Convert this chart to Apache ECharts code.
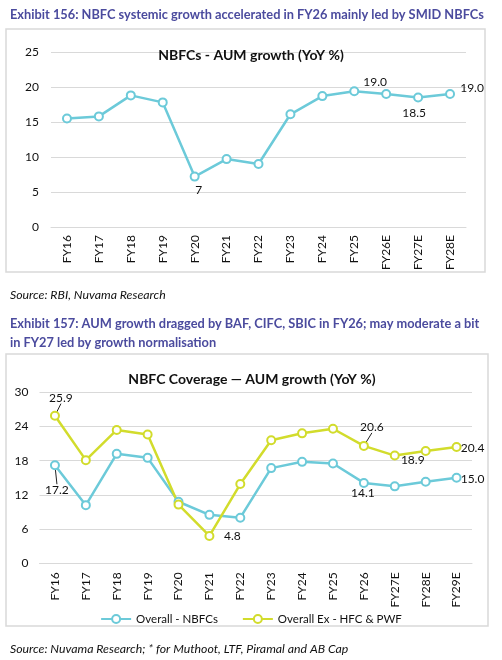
<!DOCTYPE html>
<html>
<head>
<meta charset="utf-8">
<script src="https://cdn.jsdelivr.net/npm/echarts@6/dist/echarts.min.js"></script>
<style>
html,body{margin:0;padding:0;background:#fff;}
#main{width:502px;height:660px;}
</style>
</head>
<body>
<div id="main"></div>
<script>
// Exhibit 156 - systemic NBFC AUM growth
var years1 = ['FY16','FY17','FY18','FY19','FY20','FY21','FY22','FY23','FY24','FY25','FY26E','FY27E','FY28E'];
var nbfcGrowth = [15.5, 15.8, 18.8, 17.8, 7.2, 9.7, 9.0, 16.1, 18.7, 19.4, 19.0, 18.5, 19.0];
var labelIdx1 = [4, 10, 11, 12];
var labelTxt1 = ['7', '19.0', '18.5', '19.0'];

// Exhibit 157 - coverage universe
var years2 = ['FY16','FY17','FY18','FY19','FY20','FY21','FY22','FY23','FY24','FY25','FY26','FY27E','FY28E','FY29E'];
var overallNbfc = [17.2, 10.2, 19.2, 18.5, 10.8, 8.5, 8.0, 16.7, 17.8, 17.5, 14.1, 13.5, 14.3, 15.0];
var overallEx = [25.9, 18.1, 23.4, 22.6, 10.3, 4.8, 13.9, 21.6, 22.8, 23.6, 20.6, 18.9, 19.7, 20.4];
var labelIdxA = [0, 10, 13];
var labelTxtA = ['17.2', '14.1', '15.0'];
var labelIdxB = [0, 5, 10, 11, 13];
var labelTxtB = ['25.9', '4.8', '20.6', '18.9', '20.4'];

var FONT = 'Lato, "Open Sans", sans-serif';
var CYAN = '#6ccad9';
var LIME = '#d2dc2c';
var PURPLE = '#4b4b9e';

// label offsets from the point centre, by data index
var shift1 = {4: [4, 14], 10: [-11, -12], 11: [-4, 16], 12: [22, -6]};
var shiftA = {0: [2, 25], 10: [-1, 10], 13: [16, 1]};
var shiftB = {0: [6, -18], 5: [23, 0], 10: [8, -19], 11: [18, 5], 13: [16, 1]};
// labels that keep a small leader line
var leadA = [0];
var leadB = [0, 10];

function withLabels(values, idx, txt, lead) {
    return values.map(function (v, i) {
        var k = idx.indexOf(i);
        if (k < 0) return v;
        return {
            value: v,
            label: {show: true, formatter: txt[k]},
            labelLine: {show: lead.indexOf(i) >= 0}
        };
    });
}
function layoutBy(shift) {
    return function (p) {
        var s = shift[p.dataIndex];
        return s ? {dx: s[0], dy: s[1]} : {};
    };
}
function lineSeries(name, color, values, xi, shift, idx, txt, lead) {
    return {
        name: name,
        type: 'line',
        xAxisIndex: xi,
        yAxisIndex: xi,
        symbol: 'emptyCircle',
        symbolSize: 8,
        lineStyle: {color: color, width: 2.5},
        itemStyle: {color: color, borderWidth: 2},
        label: {show: false, position: 'inside', color: '#111', fontFamily: FONT, fontSize: 12},
        labelLine: {show: false, lineStyle: {color: '#222', width: 1}},
        labelLayout: layoutBy(shift),
        emphasis: {disabled: true},
        data: withLabels(values, idx, txt, lead)
    };
}

var axisText = {color: '#111', fontFamily: FONT, fontSize: 12};

var chart = echarts.init(document.getElementById('main'));
chart.setOption({
    animation: false,
    textStyle: {fontFamily: FONT},
    title: [
        {text: 'Exhibit 156: NBFC systemic growth accelerated in FY26 mainly led by SMID NBFCs', left: 5, top: 3,
            textStyle: {color: PURPLE, fontSize: 12.8, fontWeight: 'bold', fontFamily: FONT}},
        {text: 'NBFCs - AUM growth (YoY %)', left: 246, textAlign: 'center', top: 43,
            textStyle: {color: '#111', fontSize: 14, fontWeight: 'bold', fontFamily: FONT}},
        {text: 'Source: RBI, Nuvama Research', left: 5, top: 284,
            textStyle: {color: '#111', fontSize: 12.3, fontStyle: 'italic', fontWeight: 'normal', fontFamily: FONT}},
        {text: 'Exhibit 157: AUM growth dragged by BAF, CIFC, SBIC in FY26; may moderate a bit\nin FY27 led by growth normalisation', left: 5, top: 309,
            textStyle: {color: PURPLE, fontSize: 12.8, fontWeight: 'bold', lineHeight: 19, fontFamily: FONT}},
        {text: 'NBFC Coverage \u2014 AUM growth (YoY %)', left: 247, textAlign: 'center', top: 367,
            textStyle: {color: '#111', fontSize: 14, fontWeight: 'bold', fontFamily: FONT}},
        {text: 'Source: Nuvama Research; * for Muthoot, LTF, Piramal and AB Cap', left: 5, top: 638,
            textStyle: {color: '#111', fontSize: 12.3, fontStyle: 'italic', fontWeight: 'normal', fontFamily: FONT}}
    ],
    graphic: [
        {type: 'rect', shape: {x: 6, y: 29, width: 479, height: 243}, style: {fill: 'none', stroke: '#d9d9d9', lineWidth: 1.5}, z: -1},
        {type: 'rect', shape: {x: 6, y: 354, width: 482, height: 272}, style: {fill: 'none', stroke: '#d9d9d9', lineWidth: 1.5}, z: -1}
    ],
    legend: {
        top: 608, left: 'center',
        itemWidth: 30, itemHeight: 10, itemGap: 24,
        data: ['Overall - NBFCs', 'Overall Ex - HFC & PWF'],
        textStyle: {color: '#111', fontSize: 11.5, fontFamily: FONT}
    },
    grid: [
        {left: 51, width: 415, top: 52, height: 175},
        {left: 39.5, width: 432.5, top: 392.3, height: 171}
    ],
    xAxis: [
        {type: 'category', gridIndex: 0, data: years1,
            axisLine: {lineStyle: {color: '#d9d9d9'}}, axisTick: {show: false},
            axisLabel: Object.assign({rotate: 90, margin: 8, interval: 0}, axisText)},
        {type: 'category', gridIndex: 1, data: years2,
            axisLine: {lineStyle: {color: '#d9d9d9'}}, axisTick: {show: false},
            axisLabel: Object.assign({rotate: 90, margin: 9, interval: 0}, axisText)}
    ],
    yAxis: [
        {type: 'value', gridIndex: 0, min: 0, max: 25, interval: 5,
            splitLine: {lineStyle: {color: '#d9d9d9'}},
            axisLabel: Object.assign({margin: 12}, axisText)},
        {type: 'value', gridIndex: 1, min: 0, max: 30, interval: 6,
            splitLine: {lineStyle: {color: '#d9d9d9'}},
            axisLabel: Object.assign({margin: 11}, axisText)}
    ],
    series: [
        lineSeries('NBFCs', CYAN, nbfcGrowth, 0, shift1, labelIdx1, labelTxt1, []),
        lineSeries('Overall - NBFCs', CYAN, overallNbfc, 1, shiftA, labelIdxA, labelTxtA, leadA),
        lineSeries('Overall Ex - HFC & PWF', LIME, overallEx, 1, shiftB, labelIdxB, labelTxtB, leadB)
    ]
});
</script>
</body>
</html>
